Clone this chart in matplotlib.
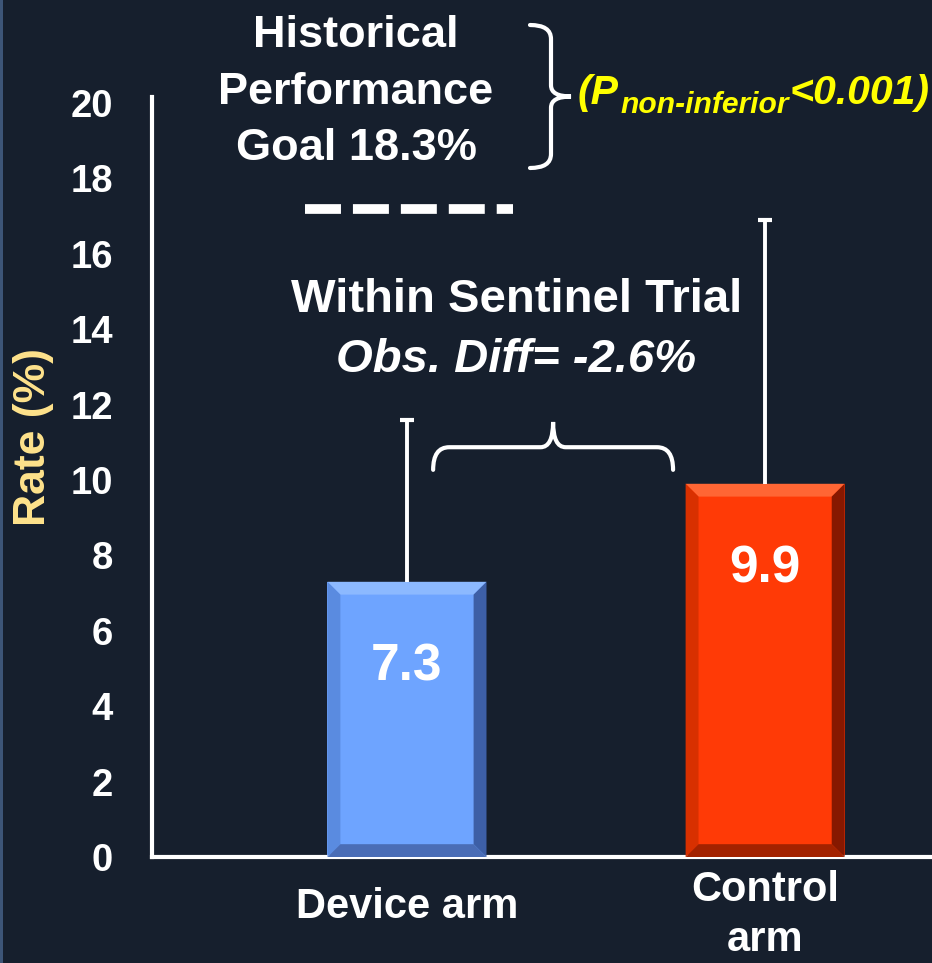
import matplotlib
matplotlib.use("Agg")
import matplotlib.pyplot as plt
import matplotlib.transforms as mtransforms
from matplotlib.path import Path
from matplotlib.patches import PathPatch, Polygon, Rectangle

# ---- data ----
categories = ["Device arm", "Control\narm"]
rates = [7.3, 9.9]
upper_ci = [11.6, 16.9]
value_labels = ["7.3", "9.9"]
goal_drawn = 17.2          # where the historical goal dash sits on the slide
yticks = list(range(0, 21, 2))

BG = "#161f2d"
W, H = 932, 963

plt.rcParams["font.family"] = ["Liberation Sans", "DejaVu Sans"]
plt.rcParams["font.weight"] = "bold"


def fpos(x, y):
    """pixel position on the slide -> figure fraction"""
    return x / W, 1 - y / H


def brace_path(a0, a1, base, line, tip, r1, r2, vertical=False):
    """curly brace: ends at `base`, body at `line`, cusp at `tip`."""
    am = (a0 + a1) / 2
    pts = [(a0, base), (a0, line), (a0 + r1, line), (am - r2, line),
           (am, line), (am, tip), (am, line), (am + r2, line),
           (a1 - r1, line), (a1, line), (a1, base)]
    codes = [Path.MOVETO, Path.CURVE3, Path.CURVE3, Path.LINETO,
             Path.CURVE3, Path.CURVE3, Path.CURVE3, Path.CURVE3,
             Path.LINETO, Path.CURVE3, Path.CURVE3]
    if vertical:
        pts = [(s, a) for a, s in pts]
    return Path(pts, codes)


def bevel(ax, x, h, w, top, left, right, bottom, dx=0.036, dy=0.34):
    x0, x1 = x - w / 2, x + w / 2
    faces = [
        ([(x0, h), (x1, h), (x1 - dx, h - dy), (x0 + dx, h - dy)], top),
        ([(x0, 0), (x0, h), (x0 + dx, h - dy), (x0 + dx, dy)], left),
        ([(x1, 0), (x1, h), (x1 - dx, h - dy), (x1 - dx, dy)], right),
        ([(x0, 0), (x1, 0), (x1 - dx, dy), (x0 + dx, dy)], bottom),
    ]
    for verts, c in faces:
        ax.add_patch(Polygon(verts, closed=True, facecolor=c, edgecolor="none", zorder=3))


fig = plt.figure(figsize=(W / 100, H / 100), dpi=100, facecolor=BG)
fig.patches.append(Rectangle((0, 0), 3 / W, 1, transform=fig.transFigure,
                             facecolor="#3d5577", edgecolor="none"))

ax = fig.add_axes([152 / W, (H - 857) / H, (W - 152) / W, (857 - 97) / H])
ax.set_facecolor(BG)
ax.set_xlim(-0.712, 1.466)
ax.set_ylim(0, 20.16)

xpos = list(range(len(categories)))
bar_w = 0.444
face = ["#6ea4ff", "#ff3a06"]
ax.bar(xpos, rates, width=bar_w, color=face, zorder=2)
bevel(ax, xpos[0], rates[0], bar_w, "#8cb9ff", "#5a8be0", "#3d5fa6", "#4a6db6")
bevel(ax, xpos[1], rates[1], bar_w, "#ff6634", "#d83000", "#861800", "#a32200")

# upper half of the error bars only
ax.vlines(xpos, rates, upper_ci, colors="white", linewidth=2.8, zorder=4)
ax.plot(xpos, upper_ci, linestyle="none", marker="_", markersize=9.5,
        markeredgewidth=3, color="white", zorder=4)

for x, r, lab in zip(xpos, rates, value_labels):
    ax.text(x, r - 2.25, lab, ha="center", va="center", color="white",
            fontsize=37, fontweight="bold", zorder=5)

# historical performance goal
ax.hlines(goal_drawn, -0.285, 0.296, colors="white", linewidth=7,
          linestyles=(0, (3.7, 1.23)), capstyle="butt")

# brace between the two arms
ax.add_patch(PathPatch(brace_path(0.073, 0.743, 10.27, 10.87, 11.54, 0.045, 0.035),
                       facecolor="none", edgecolor="white", lw=3, capstyle="round",
                       zorder=4))

ax.spines[["top", "right"]].set_visible(False)
for s in ("left", "bottom"):
    ax.spines[s].set_color("white")
    ax.spines[s].set_linewidth(3)

ax.set_yticks(yticks)
ax.tick_params(axis="y", length=0, pad=28, labelsize=27.5, labelcolor="white")
ax.set_xticks(xpos)
ax.set_xticklabels(categories, va="center", linespacing=1.3)
ax.tick_params(axis="x", length=0, pad=36, labelsize=30, labelcolor="white")
# the two-line label sits a little lower on the slide
two_line = ax.get_xticklabels()[1]
two_line.set_transform(two_line.get_transform()
                       + mtransforms.ScaledTranslation(0, -8 / 100, fig.dpi_scale_trans))

fig.text(*fpos(34, 437), "Rate (%)", rotation=90, ha="center", va="center",
         color="#ffe38c", fontsize=32, fontweight="bold")

# annotation text
fig.text(*fpos(356, 92), "Historical\nPerformance\nGoal 18.3%", ha="center", va="center",
         color="white", fontsize=32.5, fontweight="bold", linespacing=1.47)
fig.text(*fpos(517, 300), "Within Sentinel Trial", ha="center", va="center",
         color="white", fontsize=34, fontweight="bold")
fig.text(*fpos(516, 360), "Obs. Diff= -2.6%", ha="center", va="center",
         color="white", fontsize=34, fontweight="bold", style="italic")

# right-hand brace
bx0, by0 = fpos(530, 25)
bx1, by1 = fpos(551, 168)
btip, _ = fpos(571, 0)
rv = 14 / H
fig.patches.append(PathPatch(brace_path(by0, by1, bx0, bx1, btip, -rv, -rv * 0.8, vertical=True),
                             transform=fig.transFigure, facecolor="none", edgecolor="white",
                             lw=3, capstyle="round"))

# P value, built piece by piece
fig.canvas.draw()
rend = fig.canvas.get_renderer()
x_cur = 578
parts = [("(P", 29.5, 104), ("non-inferior", 21.6, 113), ("<0.001)", 29.5, 104)]
for txt, size, yb in parts:
    t = fig.text(*fpos(x_cur, yb), txt, ha="left", va="baseline", color="#ffff00",
                 fontsize=size, fontweight="bold", style="italic")
    bb = t.get_window_extent(rend)
    x_cur += bb.width + 1

fig.savefig("out.png", dpi=100, facecolor=BG)
